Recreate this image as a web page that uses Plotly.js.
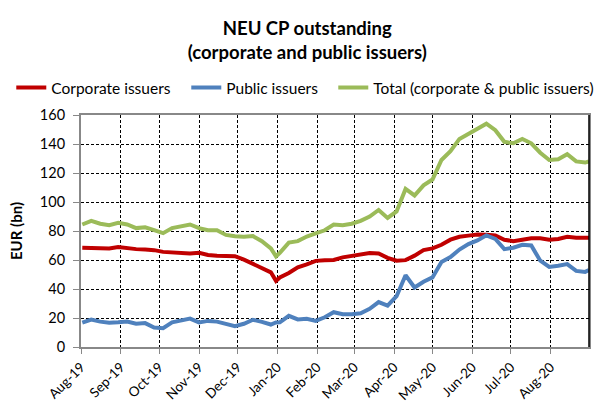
<!DOCTYPE html>
<html>
<head>
<meta charset="utf-8">
<script src="https://cdn.plot.ly/plotly-3.0.1.min.js"></script>
<style>html,body{margin:0;padding:0;background:#fff;}#chart{width:606px;height:405px;}</style>
</head>
<body>
<div id="chart"></div>
<script>
var dates = ["2019-08-02","2019-08-09","2019-08-16","2019-08-23","2019-08-30","2019-09-06","2019-09-13","2019-09-20","2019-09-27",
"2019-10-04","2019-10-11","2019-10-18","2019-10-25","2019-11-01","2019-11-08","2019-11-15","2019-11-22","2019-11-29",
"2019-12-06","2019-12-13","2019-12-20","2019-12-27","2019-12-31","2020-01-03","2020-01-10","2020-01-17","2020-01-24","2020-01-31",
"2020-02-07","2020-02-14","2020-02-21","2020-02-28","2020-03-06","2020-03-13","2020-03-20","2020-03-27",
"2020-04-03","2020-04-10","2020-04-17","2020-04-24","2020-05-01","2020-05-08","2020-05-15","2020-05-22","2020-05-29",
"2020-06-05","2020-06-12","2020-06-19","2020-06-26","2020-07-03","2020-07-10","2020-07-17","2020-07-24","2020-07-31",
"2020-08-07","2020-08-14","2020-08-21","2020-08-28","2020-08-31"];

var corporate = [68.4,68.4,68.4,68,69,68,67.5,67.2,66.8,
65.6,65.3,65,64.5,65,63.5,63,62.8,62.6,
60.3,57.5,54.5,51.5,45.6,48,51,55,57,59.4,
59.9,60,61.8,62.8,63.5,64.8,64.5,61.5,
59.5,59.9,63,66.8,68,70.5,74,76,76.8,
77.6,77.5,77,74,73,74,75,75,74,
74.5,76,75.3,75.3,75.3];

var publicIss = [16.8,18.9,17.5,16.8,17,17.5,16,16.5,13.5,
13,17,18.4,19.6,17,18,17.5,16.2,14.3,
16,18.8,17.3,15.5,16.9,17,21.5,19,19.5,18,
20.5,24,22.6,22.6,23.3,26.3,31,28.5,
35,49.5,41,45,48,58.7,62,67.2,71,
73.5,77,74.5,67.5,68.5,70.5,70,59.5,55.2,
56,57.2,52.5,51.8,53];

var total = [84.5,87,85,84,85.6,84.5,82,82.5,80.6,
78.5,82,83,84.5,82,80.6,80.5,77.3,76.4,
76,76.5,73,68,62.5,65,72,73,76.2,78.3,
80.5,84.5,84,85,87,90,94.5,89,
93.5,109,104.5,111.5,115.5,129,135,143.5,147,
150.5,154,149.5,141.5,140.5,143.5,140.5,134,129,
129.5,133,128,127.2,128];

var seriesNames = ["Corporate issuers","Public issuers","Total (corporate & public issuers)"];
var yTicks = [0,20,40,60,80,100,120,140,160];

var FONT = "Lato, 'Open Sans', sans-serif";
var traces = [
  {x: dates, y: corporate, name: seriesNames[0], type: "scatter", mode: "lines", line: {color: "#C00000", width: 4}, legendwidth: 130},
  {x: dates, y: publicIss, name: seriesNames[1], type: "scatter", mode: "lines", line: {color: "#4F81BD", width: 4}, legendwidth: 102},
  {x: dates, y: total, name: seriesNames[2], type: "scatter", mode: "lines", line: {color: "#9BBB59", width: 4}}
];

var layout = {
  width: 606, height: 405,
  margin: {l: 80, r: 17, t: 115, b: 58},
  paper_bgcolor: "#fff", plot_bgcolor: "#fff",
  font: {family: FONT, color: "#000", size: 14},
  title: {
    text: "<b>NEU CP outstanding<br>(corporate and public issuers)</b>",
    font: {family: FONT, size: 18.5, color: "#000"},
    x: 0.507, xref: "container", xanchor: "center",
    y: 1 - 35/405, yref: "container", yanchor: "middle"
  },
  showlegend: true,
  legend: {
    orientation: "h", xref: "paper", x: -0.135, xanchor: "left",
    yref: "paper", y: (347 - 88) / 232, yanchor: "middle",
    font: {family: FONT, size: 15.5, color: "#000"},
    itemwidth: 30, tracegroupgap: 0, traceorder: "normal"
  },
  xaxis: {
    type: "date",
    range: ["2019-08-01", "2020-08-31"],
    tick0: "2019-08-01", dtick: "M1",
    tickformat: "%b-%y", tickangle: -45,
    tickfont: {family: FONT, size: 13.5, color: "#000"},
    ticks: "outside", ticklen: 5, tickcolor: "#888",
    showgrid: true, gridcolor: "#000", gridwidth: 1, griddash: "3px,2px",
    showline: true, linecolor: "#888", linewidth: 2, mirror: true,
    zeroline: false, fixedrange: true
  },
  yaxis: {
    range: [0, 160], tickvals: yTicks,
    tickfont: {family: FONT, size: 14.5, color: "#000"},
    ticks: "outside", ticklen: 6, tickcolor: "#888", ticklabelstandoff: 5,
    showgrid: true, gridcolor: "#000", gridwidth: 1, griddash: "3px,2px",
    showline: true, linecolor: "#888", linewidth: 2, mirror: true,
    zeroline: false, fixedrange: true,
    title: {text: "<b>EUR (bn)</b>", font: {family: FONT, size: 15, color: "#000"}, standoff: 14}
  },
  shapes: [
    {type: "line", xref: "paper", yref: "paper", x0: 1, x1: 1, y0: 0, y1: 1, line: {color: "#000", width: 1.5}}
  ]
};

Plotly.newPlot("chart", traces, layout, {displayModeBar: false, staticPlot: true});
</script>
</body>
</html>
